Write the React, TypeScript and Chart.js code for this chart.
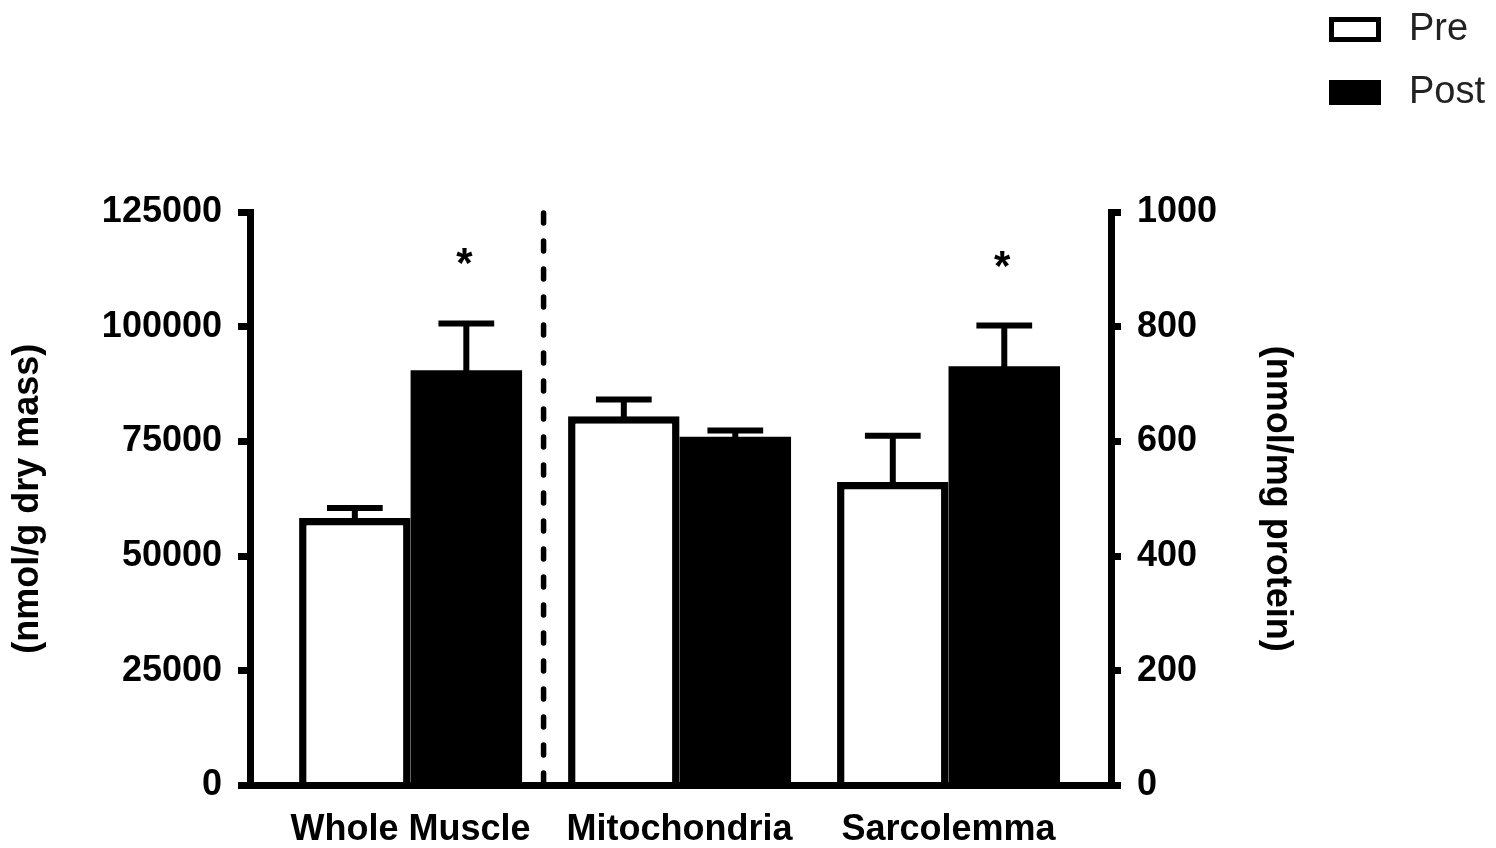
import React, { useEffect, useRef } from 'react';
import { Chart, registerables } from 'chart.js';

Chart.register(...registerables);

// ---- data ----
const categories = ['Whole Muscle', 'Mitochondria', 'Sarcolemma'];
const categoryAxis = ['yLeft', 'yRight', 'yRight'];
const seriesNames = ['Pre', 'Post'];
const preMeans = [58300, 644, 529];
const preErrors = [2200, 29, 81];
const postMeans = [90500, 608, 731];
const postErrors = [10200, 11, 71];
const postSignificant = [true, false, true];
const leftTicks = [0, 25000, 50000, 75000, 100000, 125000];
const rightTicks = [0, 200, 400, 600, 800, 1000];
const leftAxisTitle = '(nmol/g dry mass)';
const rightAxisTitle = '(nmol/mg protein)';

const FAMILY = "'Liberation Sans', Arial, Helvetica, sans-serif";
const boldFont = { family: FAMILY, size: 36, weight: 'bold' as const };

function pick(values: number[], axisId: string) {
  return categories.map((_, i) => ({ x: i, y: categoryAxis[i] === axisId ? values[i] : null }));
}

const annotationPlugin = {
  id: 'annotations',
  afterDatasetsDraw(chart: any) {
    const ctx = chart.ctx;
    const area = chart.chartArea;
    const xs = chart.scales.x;
    ctx.save();
    // dashed divider between first and second group
    const xd = xs.getPixelForValue(0.5) - 1.5;
    ctx.beginPath();
    ctx.setLineDash([10, 18]);
    ctx.lineCap = 'round';
    ctx.lineWidth = 5.5;
    ctx.strokeStyle = '#000';
    ctx.moveTo(xd, area.top + 1);
    ctx.lineTo(xd, area.bottom);
    ctx.stroke();
    ctx.setLineDash([]);
    ctx.lineCap = 'butt';
    // error bars
    chart.data.datasets.forEach((ds: any, di: number) => {
      const meta = chart.getDatasetMeta(di);
      const ys = chart.scales[meta.yAxisID];
      ds.data.forEach((pt: any, j: number) => {
        if (pt.y === null || pt.y === undefined) return;
        const el = meta.data[j];
        if (!el) return;
        const { x, y, width } = el.getProps(['x', 'y', 'width'], true);
        const top = ys.getPixelForValue(pt.y + ds.errors[j]);
        ctx.lineWidth = 6;
        ctx.strokeStyle = '#000';
        ctx.beginPath();
        ctx.moveTo(x, y + 3);
        ctx.lineTo(x, top);
        ctx.moveTo(x - width / 4, top);
        ctx.lineTo(x + width / 4, top);
        ctx.stroke();
        if (ds.stars && ds.stars[j]) {
          ctx.fillStyle = '#000';
          ctx.font = `bold 42px ${FAMILY}`;
          ctx.textAlign = 'center';
          ctx.textBaseline = 'alphabetic';
          ctx.fillText('*', x - 2, top - 46);
        }
      });
    });
    ctx.restore();
  },
  afterDraw(chart: any) {
    const ctx = chart.ctx;
    ctx.save();
    // legend
    const items = [chart.data.datasets[0], chart.data.datasets[1]];
    const centers = [29.5, 92.5];
    items.forEach((ds: any, i: number) => {
      const cy = centers[i];
      ctx.fillStyle = ds.backgroundColor;
      ctx.fillRect(1329, cy - 12.5, 52, 25);
      ctx.lineWidth = 5;
      ctx.strokeStyle = '#000';
      ctx.strokeRect(1331.5, cy - 10, 47, 20);
      ctx.fillStyle = '#222';
      ctx.font = `38px ${FAMILY}`;
      ctx.textAlign = 'left';
      ctx.textBaseline = 'middle';
      ctx.fillText(seriesNames[i], 1409, cy);
    });
    ctx.restore();
  },
};

function makeDataset(name: string, axisId: string, values: number[], errors: number[], fill: string, border: number, stars?: boolean[]) {
  return {
    label: name,
    yAxisID: axisId,
    data: pick(values, axisId),
    errors,
    stars,
    backgroundColor: fill,
    borderColor: '#000',
    borderWidth: border,
    skipNull: true,
    barPercentage: 1,
    categoryPercentage: 0.829,
  };
}

export default function App() {
  const ref = useRef<HTMLCanvasElement | null>(null);
  useEffect(() => {
    document.body.style.margin = '0';
    document.body.style.overflow = 'hidden';
    if (!ref.current) return;
    const chart = new Chart(ref.current, {
      type: 'bar',
      data: {
        datasets: [
          makeDataset(seriesNames[0], 'yLeft', preMeans, preErrors, '#ffffff', 7.5),
          makeDataset(seriesNames[1], 'yLeft', postMeans, postErrors, '#000000', 0, postSignificant),
          makeDataset(seriesNames[0], 'yRight', preMeans, preErrors, '#ffffff', 7.5),
          makeDataset(seriesNames[1], 'yRight', postMeans, postErrors, '#000000', 0, postSignificant),
        ] as any,
      },
      options: {
        animation: false,
        responsive: true,
        maintainAspectRatio: false,
        layout: { padding: { top: 212, right: 191, bottom: 0, left: 0 } },
        plugins: { legend: { display: false }, tooltip: { enabled: false }, title: { display: false } },
        scales: {
          x: {
            type: 'linear',
            position: 'bottom',
            min: -0.597,
            max: 2.604,
            offset: false,
            z: 1,
            afterBuildTicks: (axis: any) => {
              axis.ticks = categories.map((_, i) => ({ value: i }));
            },
            afterFit: (axis: any) => {
              axis.height = 62.5;
            },
            ticks: {
              callback: (v: any) => categories[v] ?? '',
              font: boldFont,
              color: '#000',
              padding: 23,
              maxRotation: 0,
              autoSkip: false,
            },
            grid: { display: false, drawTicks: false, offset: false },
            border: { display: true, color: '#000', width: 7 },
          },
          yLeft: {
            type: 'linear',
            position: 'left',
            min: 0,
            max: 125000,
            z: 1,
            afterBuildTicks: (axis: any) => {
              axis.ticks = leftTicks.map((v) => ({ value: v }));
            },
            afterFit: (axis: any) => {
              axis.width = 250;
            },
            ticks: { callback: (v: any) => String(v), font: boldFont, color: '#000', padding: 16 },
            grid: { drawOnChartArea: false, drawTicks: true, tickLength: 12, lineWidth: 7, color: '#000' },
            border: { display: true, width: 7, color: '#000' },
            title: { display: true, text: leftAxisTitle, font: boldFont, color: '#000', padding: { top: 6, bottom: 0 } },
          },
          yRight: {
            type: 'linear',
            position: 'right',
            min: 0,
            max: 1000,
            z: 1,
            afterBuildTicks: (axis: any) => {
              axis.ticks = rightTicks.map((v) => ({ value: v }));
            },
            afterFit: (axis: any) => {
              axis.width = 194;
            },
            ticks: { callback: (v: any) => String(v), font: boldFont, color: '#000', padding: 16 },
            grid: { drawOnChartArea: false, drawTicks: true, tickLength: 10, lineWidth: 7, color: '#000' },
            border: { display: true, width: 7, color: '#000' },
            title: { display: true, text: rightAxisTitle, font: boldFont, color: '#000', padding: { top: 6, bottom: 0 } },
          },
        },
      } as any,
      plugins: [annotationPlugin],
    });
    return () => chart.destroy();
  }, []);
  return (
    <div style={{ position: 'relative', width: '1496px', height: '848px' }}>
      <canvas ref={ref} style={{ display: 'block' }} />
    </div>
  );
}
